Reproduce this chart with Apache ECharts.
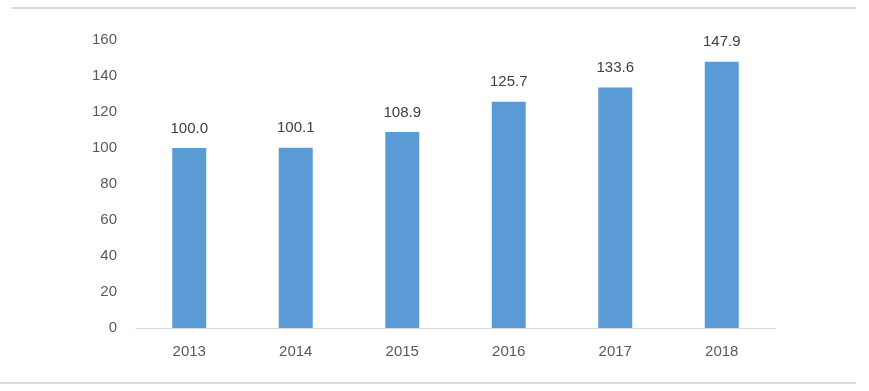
<!DOCTYPE html>
<html><head><meta charset="utf-8">
<script src="https://cdn.jsdelivr.net/npm/echarts@6/dist/echarts.min.js"></script>
<style>html,body{margin:0;padding:0;background:#fff}#c{width:869px;height:391px}</style>
</head><body><div id="c"></div>
<script>
const categories = ['2013','2014','2015','2016','2017','2018'];
const values = [100.0, 100.1, 108.9, 125.7, 133.6, 147.9];
const yTicks = [0, 20, 40, 60, 80, 100, 120, 140, 160];

const chart = echarts.init(document.getElementById('c'));
chart.setOption({
  animation: false,
  grid: {left: 136, right: 94, top: 40, bottom: 63},
  graphic: [
    {type: 'line', shape: {x1: 12, y1: 8, x2: 856, y2: 8}, style: {stroke: '#cfcfcf', lineWidth: 1.5}},
    {type: 'line', shape: {x1: 0, y1: 383, x2: 856, y2: 383}, style: {stroke: '#cfcfcf', lineWidth: 1.5}}
  ],
  xAxis: {
    type: 'category', data: categories,
    axisLine: {lineStyle: {color: '#d9d9d9', width: 1}},
    axisTick: {show: false},
    axisLabel: {color: '#595959', fontSize: 15, margin: 16, fontFamily: 'Liberation Sans'}
  },
  yAxis: {
    type: 'value', min: yTicks[0], max: yTicks[yTicks.length-1], interval: 20,
    axisLine: {show: false}, axisTick: {show: false},
    splitLine: {show: false},
    axisLabel: {color: '#595959', fontSize: 15, margin: 19, fontFamily: 'Liberation Sans'}
  },
  series: [{
    type: 'bar', data: values, barWidth: 34,
    itemStyle: {color: '#5B9BD5'},
    label: {show: true, position: 'top', distance: 12, color: '#404040', fontSize: 15,
      fontFamily: 'Liberation Sans', formatter: p => p.value.toFixed(1)}
  }]
});
</script></body></html>
